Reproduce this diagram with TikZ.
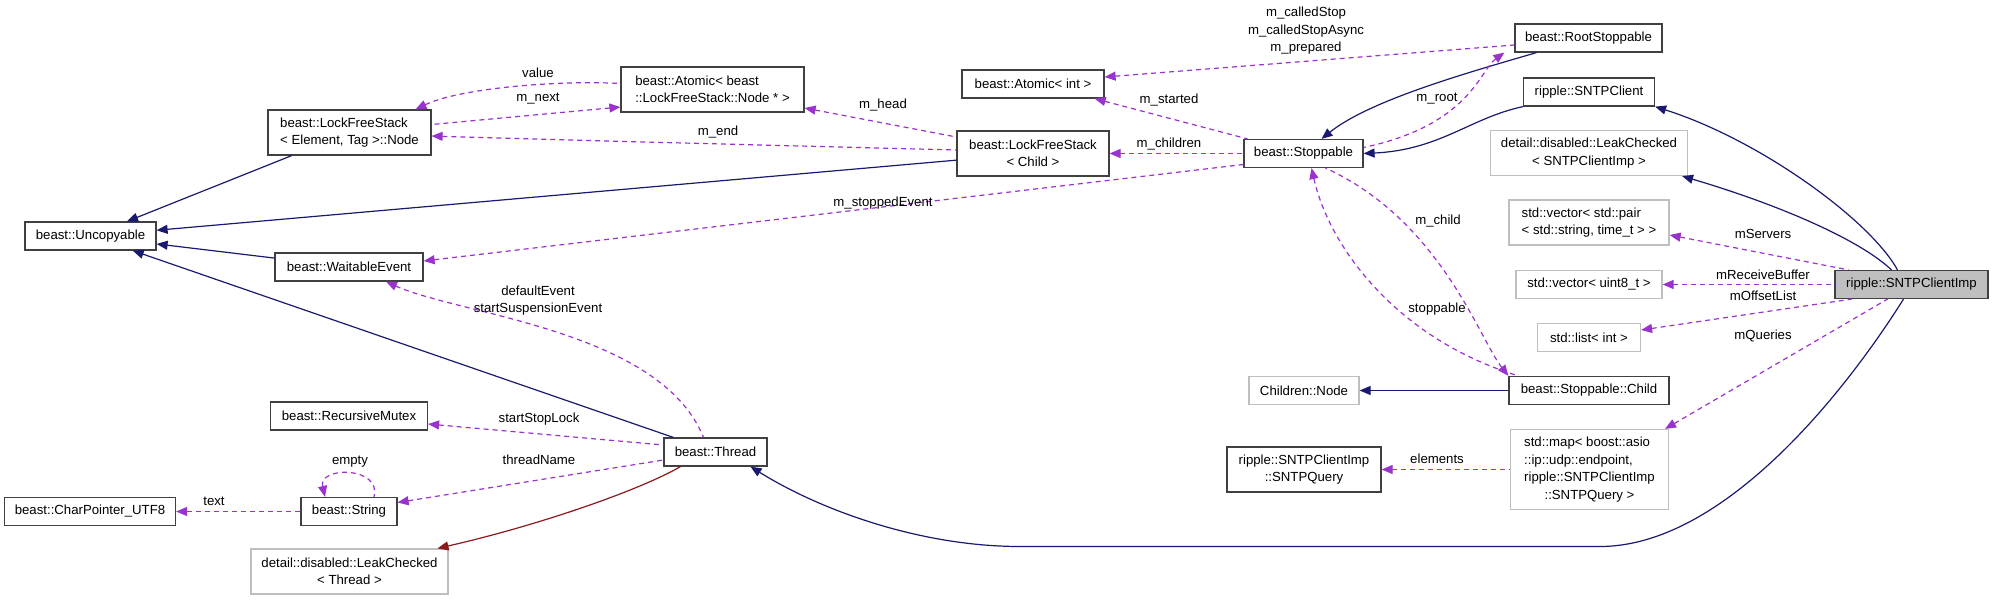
\documentclass[tikz,border=0pt]{standalone}
\usepackage{fontspec}
\setmainfont{Liberation Sans}
\usetikzlibrary{arrows.meta}
\definecolor{inhblue}{HTML}{191970}
\definecolor{mempurple}{HTML}{9A32CD}
\definecolor{prtred}{HTML}{8B1A1A}
\definecolor{boxgray}{HTML}{BFBFBF}

\begin{document}
\begin{tikzpicture}[x=1pt, y=-1pt,
  cls/.style={draw=black!75, line width=1.2pt, fill=white, inner xsep=4pt, inner ysep=2pt, minimum height=28pt, font=\fontsize{13.2}{17.5}\selectfont},
  ext/.style={cls, draw=boxgray},
  two/.style={minimum height=45pt},
  inh/.style={{Triangle[length=11pt,width=9pt]}-, line width=1.2pt, inhblue},
  prt/.style={{Triangle[length=11pt,width=9pt]}-, line width=1.2pt, prtred},
  mem/.style={{Triangle[length=11pt,width=9pt]}-, line width=1.2pt, mempurple, dash pattern=on 5pt off 4pt},
  lbl/.style={font=\fontsize{13.2}{17.5}\selectfont, inner sep=0pt, align=center}]

\useasboundingbox (0,0) rectangle (1995,600);

%% ── classes, left part ───────────────────────────────────
\node[cls, minimum width=131pt] (uncop) at (90.5,236) {beast::Uncopyable};
\node[cls, two, align=left, minimum width=163pt] (lfsnode) at (349.5,132.5) {beast::LockFreeStack\\< Element, Tag >::Node};
\node[cls, minimum width=148pt] (waitev) at (349,267) {beast::WaitableEvent};
\node[cls, minimum width=157pt] (recmutex) at (349,416) {beast::RecursiveMutex};
\node[cls, minimum width=96pt] (string) at (349,511.5) {beast::String};
\node[cls, minimum width=171pt] (charptr) at (90,511.5) {beast::CharPointer\_UTF8};
\node[ext, two, align=center, minimum width=197pt] (leakthread) at (349.5,571.5) {detail::disabled::LeakChecked\\< Thread >};
\node[cls, minimum width=103pt] (thread) at (715.5,452) {beast::Thread};

%% ── classes, middle ──────────────────────────────────────
\node[cls, two, align=left, minimum width=183pt] (atomicnode) at (712.5,89.5) {beast::Atomic< beast\\::LockFreeStack::Node * >};
\node[cls, minimum width=142pt] (atomicint) at (1033,84) {beast::Atomic< int >};
\node[cls, two, align=center, minimum width=152pt] (lfschild) at (1033,153.5) {beast::LockFreeStack\\< Child >};
\node[cls, minimum width=119pt] (stoppable) at (1303.5,153.5) {beast::Stoppable};
\node[ext, minimum width=110pt] (childnode) at (1304,390.5) {Children::Node};
\node[cls, two, align=center, minimum width=154pt] (sntpquery) at (1304,469.5) {ripple::SNTPClientImp\\::SNTPQuery};

%% ── classes, right part ──────────────────────────────────
\node[cls, minimum width=147pt] (rootstop) at (1588.5,38) {beast::RootStoppable};
\node[cls, minimum width=131pt] (sntpclient) at (1589,92) {ripple::SNTPClient};
\node[ext, two, align=center, minimum width=197pt] (leakimp) at (1589,153) {detail::disabled::LeakChecked\\< SNTPClientImp >};
\node[ext, two, align=left, minimum width=160pt] (vecpair) at (1589,222.5) {std::vector< std::pair\\< std::string, time\_t > >};
\node[ext, minimum width=146pt] (vecu8) at (1589,284.5) {std::vector< uint8\_t >};
\node[ext, minimum width=103pt] (listint) at (1589,337.5) {std::list< int >};
\node[cls, minimum width=160pt] (child) at (1589,390.5) {beast::Stoppable::Child};
\node[ext, minimum height=80pt, minimum width=158pt] (map) at (1589.5,469.5)
  {\begin{tabular}{@{}l@{}}std::map< boost::asio\\::ip::udp::endpoint,\\
   \multicolumn{1}{@{}c@{}}{ripple::SNTPClientImp}\\\multicolumn{1}{@{}c@{}}{::SNTPQuery >}\end{tabular}};
\node[cls, fill=boxgray, minimum width=153pt] (sntpimp) at (1911.5,284.5) {ripple::SNTPClientImp};

%% ── inheritance ──────────────────────────────────────────
\foreach \b in {lfsnode,lfschild,waitev,thread}{\draw[inh] (uncop) -- (\b);}
\draw[inh] (childnode) -- (child);
\draw[inh] ([xshift=18pt]stoppable.north) .. controls (1370,100) and (1470,72) .. ([xshift=-52pt]rootstop.south);
\draw[inh] (stoppable.east) .. controls (1440,150) and (1470,118) .. (sntpclient.south west);
\draw[inh] (sntpclient.south east) .. controls (1760,140) and (1870,220) .. ([xshift=-14pt]sntpimp.north);
\draw[inh] ([xshift=-6pt]leakimp.south east) .. controls (1780,205) and (1860,240) .. ([xshift=-20pt]sntpimp.north);
\draw[inh] ([xshift=35pt]thread.south) .. controls (820,510) and (920,546.5) .. (1020,546.5) -- (1600,546.5)
  .. controls (1720,546.5) and (1840,400) .. ([xshift=-8pt]sntpimp.south);
\draw[prt] ([xshift=88pt]leakthread.north) .. controls (540,525) and (640,490) .. ([xshift=-35pt]thread.south);

%% ── members ──────────────────────────────────────────────
\draw[mem] ([xshift=66pt]lfsnode.north) .. controls (460,88) and (560,80) .. ([yshift=6pt]atomicnode.west);
\draw[mem] ([yshift=-17.5pt]atomicnode.west) -- ([yshift=8pt]lfsnode.east);
\draw[mem] ([yshift=-18.5pt]atomicnode.east) -- ([yshift=16.5pt]lfschild.west);
\draw[mem] ([yshift=-3.5pt]lfsnode.east) .. controls (560,140) and (800,146) .. ([yshift=3.5pt]lfschild.west);
\draw[mem] ([yshift=7pt]atomicint.east) -- ([yshift=-7pt]rootstop.west);
\draw[mem] ([xshift=-10pt]atomicint.south east) -- ([xshift=-56pt]stoppable.north);
\draw[mem] (lfschild) -- (stoppable);
\draw[mem] ([yshift=6pt]waitev.east) -- ([yshift=-11pt]stoppable.west);
\draw[mem] ([xshift=-10pt]rootstop.south west) .. controls (1480,70) and (1470,125) .. ([yshift=6pt]stoppable.east);
\draw[mem] ([xshift=8pt]stoppable.south) .. controls (1330,250) and (1400,340) .. ([xshift=10pt]child.north west);
\draw[mem] (child.north west) .. controls (1480,340) and (1440,220) .. ([xshift=22pt]stoppable.south);
\draw[mem] ([xshift=37pt]waitev.south) .. controls (460,315) and (660,330) .. ([xshift=-12pt]thread.north);
\draw[mem] ([yshift=-8pt]recmutex.east) -- ([yshift=7pt]thread.west);
\draw[mem] ([yshift=9pt]string.east) -- ([yshift=-8pt]thread.west);
\draw[mem] ([xshift=-24pt]string.north) .. controls (318,466) and (382,466) .. ([xshift=25pt]string.north);
\draw[mem] (charptr) -- (string);
\draw[mem] ([yshift=-12.5pt]vecpair.east) -- ([xshift=-63pt]sntpimp.north);
\draw[mem] (vecu8) -- (sntpimp);
\draw[mem] ([yshift=7.5pt]listint.east) -- ([xshift=-60pt]sntpimp.south);
\draw[mem] ([xshift=-4pt]map.north east) -- ([xshift=-24pt]sntpimp.south);
\draw[mem] (sntpquery) -- (map);

%% ── member labels ────────────────────────────────────────
\foreach \n/\x/\y/\t in {lvalue/538/73/value, lnext/538/99/m\_next, lhead/883/105/m\_head, lend/718/132/m\_end,
  lstarted/1169/100/m\_started, lchildren/1169/144/m\_children, lroot/1437/99/m\_root,
  lstopped/883/203/m\_stoppedEvent, lchild/1438/221/m\_child, lstoppable/1437/309/stoppable,
  lservers/1763/234/mServers, lbuffer/1763/275/mReceiveBuffer, loffset/1763/296/mOffsetList,
  lqueries/1763/336/mQueries, lelements/1437/459/elements, llock/539/419/startStopLock,
  lname/539/460/threadName, lempty/350/462/empty, ltext/214/501/text}
  {\node[lbl] (\n) at (\x,\y) {\t};}
\node[lbl] (lcalled) at (1306,31) {m\_calledStop\\m\_calledStopAsync\\m\_prepared};
\node[lbl] (levents) at (538,300.5) {defaultEvent\\startSuspensionEvent};
\end{tikzpicture}
\end{document}
